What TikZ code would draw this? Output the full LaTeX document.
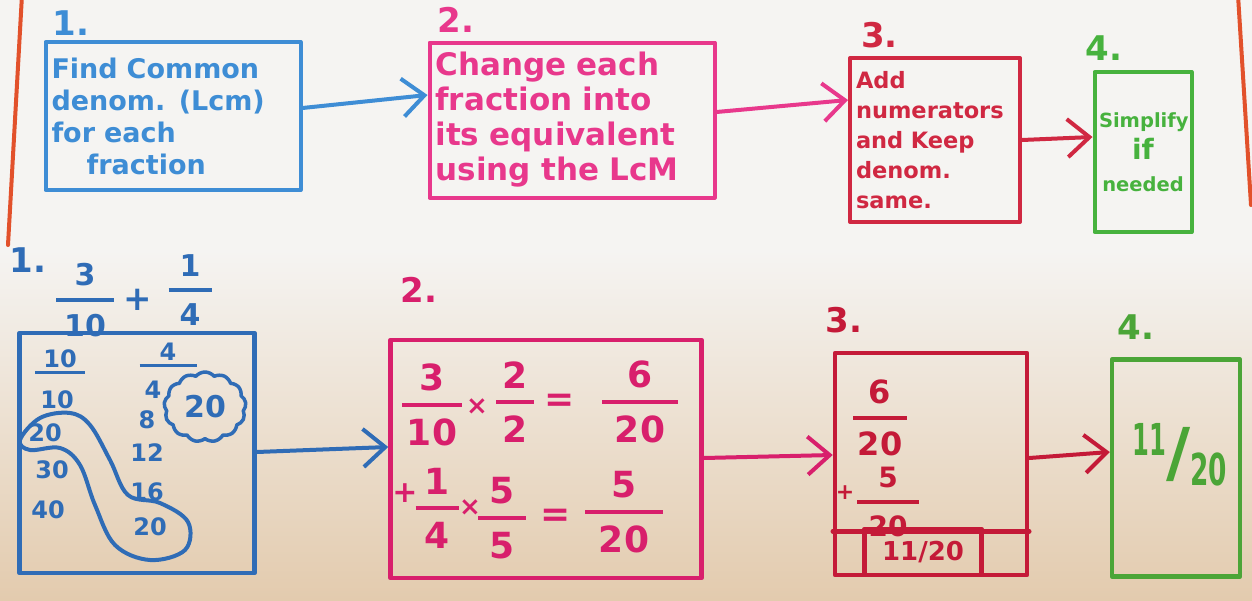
\documentclass[tikz,border=0pt]{standalone}
\usepackage{amsmath}
\usepackage{graphicx}
\usepackage{fontspec}
\setmainfont{DejaVu Sans}
\usetikzlibrary{arrows.meta}
\usetikzlibrary{positioning}
\usetikzlibrary{shapes.symbols}

\definecolor{penblue}{HTML}{3E8DD5}
\definecolor{inkblue}{HTML}{2F6CB6}
\definecolor{penpink}{HTML}{E8388C}
\definecolor{inkpink}{HTML}{D81F6C}
\definecolor{penred}{HTML}{D02842}
\definecolor{inkred}{HTML}{C41A38}
\definecolor{pengreen}{HTML}{47B23E}
\definecolor{inkgreen}{HTML}{4BA537}
\definecolor{margin}{HTML}{E2512B}
\definecolor{paper}{HTML}{F5F4F2}
\definecolor{paperlow}{HTML}{E3CBAE}

\newcommand{\hfr}[3]{$\genfrac{}{}{4pt}{0}{\makebox[#1]{#2}}{\makebox[#1]{#3}}$}

\begin{document}
\bfseries
\begin{tikzpicture}[x=1pt,y=-1pt,->,>={Straight Barb[length=22pt,width=38pt]},
    line cap=round,line join=round,
    stepbox/.style={draw,line width=4pt,inner sep=6pt,align=left},
    workbox/.style={draw,line width=4.5pt},
    steplabel/.style={inner sep=0pt,font=\fontsize{34}{34}\selectfont},
    nums/.style={inner sep=0pt,font=\fontsize{24}{26}\selectfont},
    frac/.style={inner sep=0pt,font=\fontsize{36}{40}\selectfont},
    link/.style={line width=4pt}]

  \useasboundingbox (0,0) rectangle (1252,600);
  \fill[-,paper] (0,0) rectangle (1252,250);
  \shade[-,top color=paper,bottom color=paperlow] (0,250) rectangle (1252,600);
  \draw[-,margin,line width=4pt] (22,-5) -- (8,245);
  \draw[-,margin,line width=4pt] (1238,-5) -- (1251,205);

  % the four steps
  \node[stepbox,draw=penblue,text=penblue,text width=243pt,minimum height=148pt,
        font=\fontsize{27}{32}\selectfont] (find) at (173,116)
        {Find Common\\denom. (Lcm)\\for each\\\hspace*{1.3em}fraction};
  \node[stepbox,draw=penpink,text=penpink,text width=273pt,minimum height=155pt,
        font=\fontsize{31}{35}\selectfont] (change) at (572,120)
        {Change each\\fraction into\\its equivalent\\using the LcM};
  \node[stepbox,draw=penred,text=penred,text width=158pt,minimum height=164pt,
        font=\fontsize{22.5}{30}\selectfont] (addnum) at (935,140)
        {Add\\numerators\\and Keep\\denom.\\same.};
  \node[stepbox,draw=pengreen,text=pengreen,text width=88pt,inner sep=4.5pt,
        minimum height=160pt,align=center,font=\fontsize{19.5}{32}\selectfont] (simp) at (1143,152)
        {Simplify\\{\fontsize{28}{32}\selectfont if}\\needed};

  \node[steplabel,text=penblue,above right=4pt and 9pt of find.north west] {1.};
  \node[steplabel,text=penpink,above right=8pt and 10pt of change.north west] {2.};
  \node[steplabel,text=penred,above right=8pt and 13pt of addnum.north west] {3.};
  \node[steplabel,text=pengreen,above right=9pt and -7pt of simp.north west] {4.};

  \path[link]
    ([yshift=8pt]find.east) edge[penblue] ([yshift=25pt]change.west)
    ([yshift=8pt]change.east) edge[penpink] ([yshift=40pt]addnum.west)
    ([yshift=0pt]addnum.east) edge[penred] ([yshift=15pt]simp.west)
  ;

  % worked example
  \node[workbox,draw=inkblue,minimum width=235pt,minimum height=240pt] (lcm) at (137,453) {};
  \node[workbox,draw=inkpink,minimum width=311pt,minimum height=238pt] (equiv) at (546,459) {};
  \node[workbox,draw=inkred,minimum width=192pt,minimum height=222pt] (total) at (931,464) {};
  \node[workbox,draw=inkgreen,minimum width=128pt,minimum height=217pt] (answer) at (1176,468) {};

  \node[steplabel,text=inkblue,above right=58pt and -8pt of lcm.north west] {1.};
  \node[steplabel,text=inkpink,above right=35pt and 12pt of equiv.north west] {2.};
  \node[steplabel,text=inkred,above right=18pt and -7pt of total.north west] {3.};
  \node[steplabel,text=inkgreen,above right=18pt and 8pt of answer.north west] {4.};

  % step 1: multiples
  \node[frac,text=inkblue,font=\fontsize{30}{32}\selectfont] (ta) at (85,300) {\hfr{58pt}{3}{10}};
  \node[frac,text=inkblue,font=\fontsize{34}{34}\selectfont] (tplus) at (138,300) {+};
  \node[frac,text=inkblue,font=\fontsize{30}{32}\selectfont] (tb) at (190,290) {\hfr{43pt}{1}{4}};

  \node[nums,text=inkblue] (ma) at (60,362) {\shortstack{10\\\rule{50pt}{3.5pt}}};
  \node[nums,text=inkblue] (mb) at (57,400) {10};
  \node[nums,text=inkblue] (mc) at (45,433) {20};
  \node[nums,text=inkblue] (md) at (52,470) {30};
  \node[nums,text=inkblue] (me) at (48,510) {40};
  \node[nums,text=inkblue] (na) at (168,355) {\shortstack{4\\\rule{57pt}{3.5pt}}};
  \node[nums,text=inkblue] (nb) at (153,390) {4};
  \node[nums,text=inkblue] (nc) at (147,420) {8};
  \node[nums,text=inkblue] (nd) at (147,453) {12};
  \node[nums,text=inkblue] (ne) at (147,492) {16};
  \node[nums,text=inkblue] (nf) at (150,527) {20};
  \node[cloud,draw=inkblue,line width=3.5pt,cloud puffs=13,cloud puff arc=100,aspect=1.2,
        minimum width=82pt,minimum height=70pt,inner sep=0pt,text=inkblue,
        font=\fontsize{30}{30}\selectfont] (lcmcloud) at (205,407) {20};
  \draw[-,inkblue,line width=4pt] plot[smooth cycle,tension=0.6] coordinates
    {(20,440) (40,418) (70,413) (90,425) (110,460) (128,495) (160,503) (188,522)
     (185,550) (150,560) (115,545) (95,505) (80,465) (60,448) (30,450)};

  % step 2: equivalent fractions
  \node[frac,text=inkpink] (fa) at (432,405) {\hfr{60pt}{3}{10}};
  \node[frac,text=inkpink,font=\fontsize{26}{26}\selectfont] (xa) at (477,407) {×};
  \node[frac,text=inkpink] (fb) at (515,402) {\hfr{38pt}{2}{2}};
  \node[frac,text=inkpink] (ea) at (560,403) {=};
  \node[frac,text=inkpink] (fc) at (640,402) {\hfr{76pt}{6}{20}};
  \node[frac,text=inkpink,font=\fontsize{30}{30}\selectfont] (pa) at (405,493) {+};
  \node[frac,text=inkpink] (fd) at (437,508) {\hfr{43pt}{1}{4}};
  \node[frac,text=inkpink,font=\fontsize{26}{26}\selectfont] (xb) at (470,508) {×};
  \node[frac,text=inkpink] (fe) at (502,518) {\hfr{48pt}{5}{5}};
  \node[frac,text=inkpink] (eb) at (556,518) {=};
  \node[frac,text=inkpink] (ff) at (624,512) {\hfr{78pt}{5}{20}};

  % step 3: add
  \node[frac,text=inkred,font=\fontsize{32}{34}\selectfont] (ga) at (880,418) {\hfr{54pt}{6}{20}};
  \node[frac,text=inkred,font=\fontsize{22}{22}\selectfont] (pb) at (845,493) {+};
  \node[frac,text=inkred,font=\fontsize{28}{30}\selectfont] (gb) at (888,502) {\hfr{62pt}{5}{20}};
  \draw[-,inkred,line width=4.5pt] ([yshift=46pt]total.south west) -- ([yshift=46pt]total.south east);
  \node[workbox,draw=inkred,text=inkred,minimum width=117pt,minimum height=46pt,anchor=south,
        font=\fontsize{26}{26}\selectfont] (sum) at ([xshift=-8pt]total.south) {11/20};

  % step 4: answer
  \node[inner sep=0pt,text=inkgreen,font=\fontsize{44}{44}\selectfont] (simple) at (1180,455)
    {\raisebox{20pt}{\scalebox{0.55}[1]{11}}{\fontsize{66}{66}\selectfont/}\raisebox{-10pt}{\scalebox{0.6}[1]{20}}};

  \path[link]
    ([yshift=1pt]lcm.east) edge[inkblue] ([yshift=12pt]equiv.west)
    ([yshift=1pt]equiv.east) edge[inkpink] ([yshift=9pt]total.west)
    ([yshift=6pt]total.east) edge[inkred] ([yshift=16pt]answer.west)
  ;
\end{tikzpicture}
\end{document}
